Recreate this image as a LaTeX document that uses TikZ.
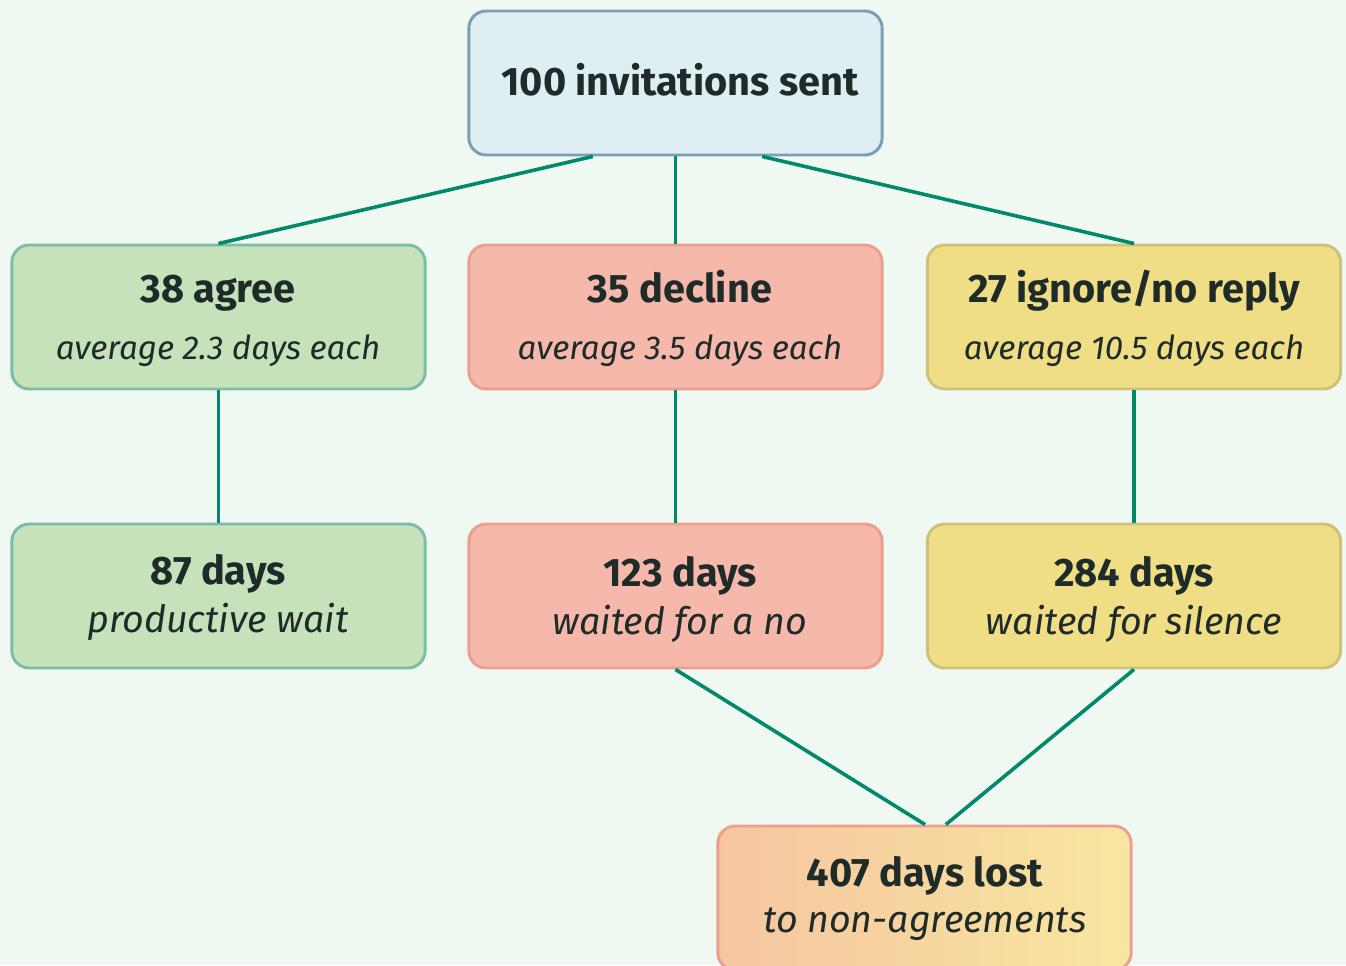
\documentclass[tikz,border=0pt]{standalone}
\usepackage{fontspec}
\setmainfont{Fira Sans}
\definecolor{bg}{HTML}{F0F9F1}
\definecolor{ink}{HTML}{1E2B28}
\definecolor{link}{HTML}{00896A}
\definecolor{topfill}{HTML}{DFEEF2}
\definecolor{topline}{HTML}{7A9EB5}
\definecolor{gfill}{HTML}{C6E2BA}
\definecolor{gline}{HTML}{7DBBAA}
\definecolor{rfill}{HTML}{F5B8AA}
\definecolor{rline}{HTML}{E9A090}
\definecolor{yfill}{HTML}{F0DE86}
\definecolor{yline}{HTML}{CFC07A}
\definecolor{oleft}{HTML}{F6C5A0}
\definecolor{oright}{HTML}{F8E7A0}
\tikzset{
  box/.style={rounded corners=13pt, line width=2.2pt, minimum width=310pt, minimum height=108pt, inner sep=0pt},
  title/.style={text=ink, font=\fontsize{29.8}{34}\selectfont\bfseries, inner sep=0pt, anchor=base},
  subsmall/.style={text=ink, font=\fontsize{24.8}{30}\selectfont\itshape, inner sep=0pt, anchor=base},
  sub/.style={text=ink, font=\fontsize{28.2}{32}\selectfont\itshape, inner sep=0pt, anchor=base},
  conn/.style={draw=link, line width=2.7pt},
}
\begin{document}
\begin{tikzpicture}[x=0.75pt, y=-0.75pt]
\fill[bg] (0,0) rectangle (1346,965);
\useasboundingbox (0,0) rectangle (1346,965);
% boxes
\node[box, draw=topline, fill=topfill] (top) at (675.5,83) {};
\node[box, draw=gline, fill=gfill] (agree) at (218.5,317) {};
\node[box, draw=rline, fill=rfill] (decline) at (675.5,317) {};
\node[box, draw=yline, fill=yfill] (ignore) at (1134,317) {};
\node[box, draw=gline, fill=gfill] (d87) at (218.5,596) {};
\node[box, draw=rline, fill=rfill] (d123) at (675.5,596) {};
\node[box, draw=yline, fill=yfill] (d284) at (1134,596) {};
\node[box, draw=rline, left color=oleft, right color=oright] (lost) at (924.5,898) {};
% texts
\node[title] (ttop) at (680,95) {100 invitations sent};
\node[title] (tagree) at (218,302) {38 agree};
\node[subsmall] (sagree) at (218,359) {average 2.3 days each};
\node[title] (tdecline) at (680,302) {35 decline};
\node[subsmall] (sdecline) at (680,359) {average 3.5 days each};
\node[title] (tignore) at (1134,302) {27 ignore/no reply};
\node[subsmall] (signore) at (1134,359) {average 10.5 days each};
\node[title] (t87) at (218,584) {87 days};
\node[sub] (s87) at (218,632) {productive wait};
\node[title] (t123) at (680,586) {123 days};
\node[sub] (s123) at (680,634) {waited for a no};
\node[title] (t284) at (1134,586) {284 days};
\node[sub] (s284) at (1134,634) {waited for silence};
\node[title] (tlost) at (925,886) {407 days lost};
\node[sub] (slost) at (925,932) {to non-agreements};
% connectors
\draw[conn] ([xshift=-62pt]top.south) -- (agree.north);
\draw[conn] (top.south) -- (decline.north);
\draw[conn] ([xshift=65pt]top.south) -- (ignore.north);
\draw[conn] (agree.south) -- (d87.north);
\draw[conn] (decline.south) -- (d123.north);
\draw[conn] (ignore.south) -- (d284.north);
\draw[conn] (d123.south) -- ([xshift=0.4pt]lost.north);
\draw[conn] (d284.south) -- ([xshift=16pt]lost.north);
\end{tikzpicture}
\end{document}
